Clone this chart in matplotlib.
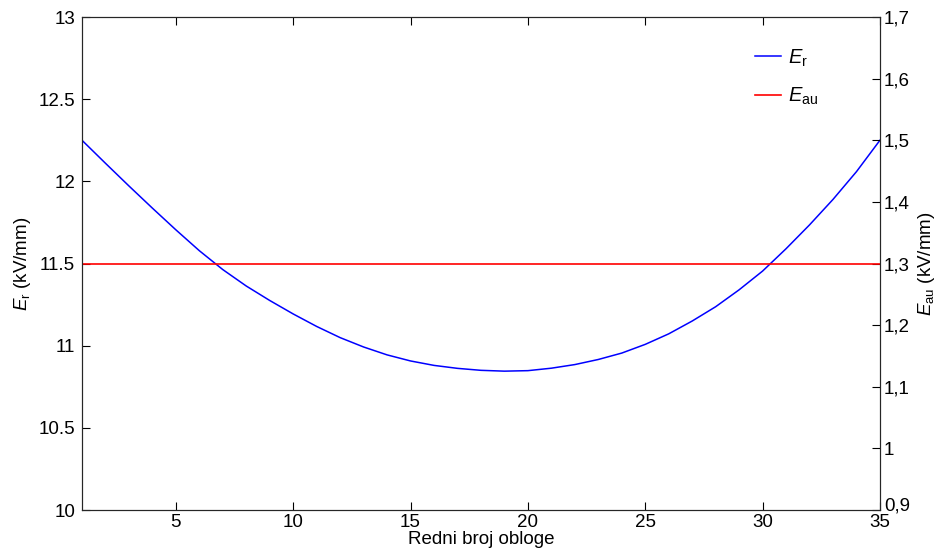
import matplotlib
matplotlib.use("Agg")
import matplotlib.pyplot as plt
import matplotlib.transforms as mtransforms
import numpy as np

plt.rcParams['font.family'] = ['Liberation Sans', 'DejaVu Sans']
plt.rcParams['mathtext.fontset'] = 'custom'
plt.rcParams['mathtext.rm'] = 'Liberation Sans'
plt.rcParams['mathtext.it'] = 'Liberation Sans:italic'

# redni broj obloge
obloge = list(range(1, 36))
# E_r (kV/mm)
E_r = [12.25, 12.11, 11.972, 11.837, 11.705, 11.578, 11.463, 11.363, 11.275, 11.193,
       11.117, 11.049, 10.992, 10.944, 10.907, 10.88, 10.862, 10.85, 10.845, 10.848,
       10.863, 10.885, 10.916, 10.955, 11.008, 11.072, 11.15, 11.237, 11.34, 11.454,
       11.59, 11.735, 11.89, 12.059, 12.25]
# E_au (kV/mm), constant
E_au = [1.3] * len(obloge)

left_ticks = [10, 10.5, 11, 11.5, 12, 12.5, 13]
right_ticks = [0.9, 1.0, 1.1, 1.2, 1.3, 1.4, 1.5, 1.6, 1.7]
x_ticks = [5, 10, 15, 20, 25, 30, 35]

FS = 13.5


def fmt_comma(v):
	s = "%.1f" % v
	if s.endswith(".0"):
		s = s[:-2]
	return s.replace(".", ",")


fig = plt.figure(figsize=(9.38, 5.54), dpi=100)
ax = fig.add_axes([0.0874, 0.0794, 0.8507, 0.8899])
ax2 = ax.twinx()

l1, = ax.plot(obloge, E_r, color=(0, 0, 1), lw=1.1)
l2, = ax2.plot(obloge, E_au, color=(1, 0, 0), lw=1.2)

ax.set_xlim(1, 35)
ax.set_ylim(10, 13)
ax2.set_ylim(0.9, 1.7)

ax.set_xticks(x_ticks)
ax.set_yticks(left_ticks)
ax.set_yticklabels([("%g" % v) for v in left_ticks])
ax2.set_yticks(right_ticks)
ax2.set_yticklabels([fmt_comma(v) for v in right_ticks])

ax.tick_params(axis='x', direction='in', length=6, width=0.8, labelsize=FS, top=True, pad=3)
ax.tick_params(axis='y', direction='in', length=6, width=0.8, labelsize=FS, right=False, pad=5)
ax2.tick_params(axis='y', direction='in', length=6, width=0.8, labelsize=FS, pad=3)

# nudge the lowest right label up a bit so it doesn't sit on top of "35"
lab = ax2.get_yticklabels()[0]
lab.set_transform(lab.get_transform() + mtransforms.ScaledTranslation(0, 4 / 72, fig.dpi_scale_trans))

for a in (ax, ax2):
	for sp in a.spines.values():
		sp.set_linewidth(0.8)
		sp.set_color('#262626')

ax.set_xlabel("Redni broj obloge", fontsize=FS, labelpad=0)
ax.set_ylabel(r"$E_\mathrm{r}$ (kV/mm)", fontsize=FS, labelpad=4)
ax2.set_ylabel(r"$E_\mathrm{au}$ (kV/mm)", fontsize=FS, rotation=90, labelpad=4)

leg = ax.legend([l1, l2], [r"$E_\mathrm{r}$", r"$E_\mathrm{au}$"], loc='upper right',
	bbox_to_anchor=(0.945, 0.975), frameon=False, fontsize=14.5, handlelength=1.3,
	handletextpad=0.35, labelspacing=0.85)

fig.savefig("out.png", dpi=100)
